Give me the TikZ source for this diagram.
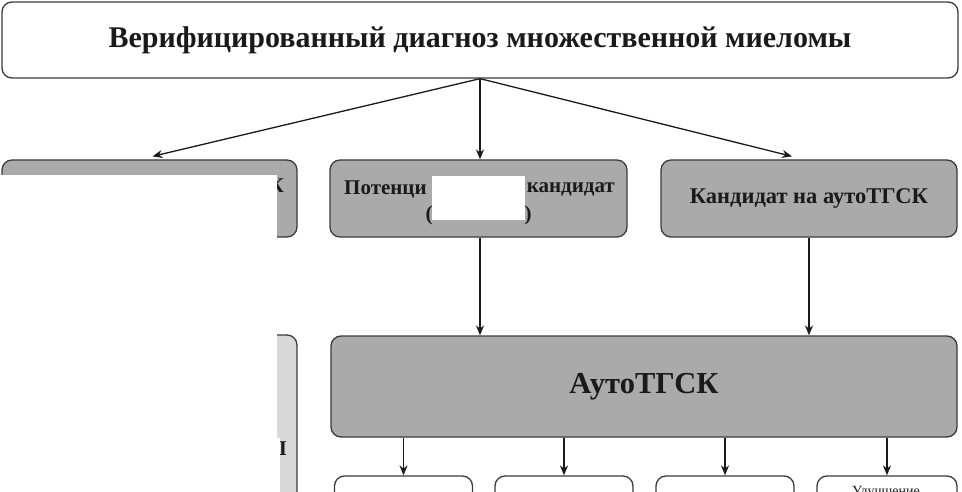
\documentclass[tikz,border=0pt]{standalone}
\usepackage{fontspec}
\setmainfont{Liberation Serif}
\usetikzlibrary{arrows.meta}
\definecolor{boxgrey}{HTML}{AAAAAA}
\definecolor{lightgrey}{HTML}{D9D9D9}
\definecolor{edge}{HTML}{3A3A3A}
\definecolor{ink}{HTML}{1A1A1A}
\tikzset{
  plainbox/.style = {
    draw=edge, line width=1.3pt, rounded corners=10pt, fill=white,
    inner sep=0pt, text=ink
  },
  greybox/.style = {plainbox, fill=boxgrey},
  arr/.style = {-{Stealth[length=10pt,width=8pt]}, line width=1.3pt, draw=ink},
  boldtxt/.style = {font=\fontsize{21}{25}\selectfont\bfseries, text=ink, inner sep=0pt}
}

\begin{document}
\begin{tikzpicture}[x=1pt,y=-1pt]
  \useasboundingbox (0,0) rectangle (962,492);
  \clip (0,0) rectangle (962,492);
  %
  \pgfmathsetmacro{\rowA}{198.5};
  \pgfmathsetmacro{\rowB}{386.5};
  \pgfmathsetmacro{\rowC}{518};
  %
  \node[plainbox, minimum width=956pt, minimum height=76pt,
        font=\fontsize{30}{36}\selectfont\bfseries] (diag) at (480,40)
        {Верифицированный диагноз множественной миеломы};
  % second row
  \node[greybox, minimum width=295pt, minimum height=77pt] (notcand) at (149.5,\rowA) {};
  \node[greybox, minimum width=297pt, minimum height=77pt] (potcand) at (478.5,\rowA) {};
  \node[greybox, minimum width=296pt, minimum height=77pt, boldtxt,
        font=\fontsize{22.5}{27}\selectfont\bfseries] (cand) at (809,\rowA)
        {Кандидат на аутоТГСК};
  \node[boldtxt, anchor=east] (notcandK) at (284,186) {К};
  \node[boldtxt, anchor=west] (potA) at (344,189) {Потенци};
  \node[boldtxt, anchor=east] (potB) at (615,189) {кандидат};
  \node[boldtxt] (potL) at (429,215) {(};
  \node[boldtxt] (potR) at (528,215) {)};
  % left column, lower box
  \node[plainbox, fill=lightgrey, minimum width=295pt, minimum height=200pt] (leftlow) at (149.5,435) {};
  \node[boldtxt] (leftlowI) at (283,449) {I};
  % transplant
  \node[greybox, minimum width=626pt, minimum height=101pt,
        font=\fontsize{30.5}{36}\selectfont\bfseries] (auto) at (644,\rowB) {АутоТГСК};
  % outcomes
  \node[plainbox, minimum width=138pt, minimum height=84pt] (resA) at (403.5,\rowC) {};
  \node[plainbox, minimum width=138pt, minimum height=84pt] (resB) at (564,\rowC) {};
  \node[plainbox, minimum width=138pt, minimum height=84pt] (resC) at (725,\rowC) {};
  \node[plainbox, minimum width=140pt, minimum height=84pt] (resD) at (887,\rowC) {};
  \node[font=\fontsize{14}{17}\selectfont, text=ink, inner sep=0pt, anchor=base] (resDtxt)
        at (886,495) {Улучшение};
  % masks
  \fill[white] (0,175) rectangle (277,438);
  \fill[white] (0,438) rectangle (280,492);
  \fill[white] (432,176) rectangle (525,220);
  % arrows
  \draw[arr] (diag.south) -- ([xshift=3pt,yshift=3pt]notcand.north);
  \draw[arr] (diag.south) -- (diag.south |- potcand.north);
  \draw[arr] (diag.south) -- ([xshift=-17pt,yshift=3pt]cand.north);
  \draw[arr] (potcand.south -| diag.south) -- (auto.north -| diag.south);
  \draw[arr] (cand.south) -- (auto.north -| cand.south);
  \foreach \n in {resA,resB,resC,resD}
    \draw[arr] (auto.south -| \n.north) -- (\n.north);
\end{tikzpicture}
\end{document}
